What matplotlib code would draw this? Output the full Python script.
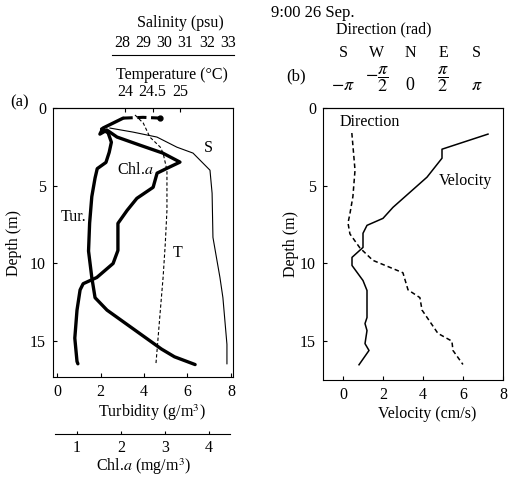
import numpy as np
import matplotlib
matplotlib.use('Agg')
import matplotlib.pyplot as plt

plt.rcParams['font.family'] = ['Liberation Serif', 'DejaVu Serif']
plt.rcParams['mathtext.fontset'] = 'stix'
plt.rcParams['font.size'] = 11.5

# ---- panel (a): profiles at 9:00 26 Sep.
tur_depth = [1.35, 1.6, 2.2, 2.85, 3.5, 3.9, 4.5, 5.7, 7.4, 9.2, 10.9, 12.2, 13.0, 13.9, 14.7, 15.5, 16.0, 16.5]
tur = [2.05, 2.35, 2.5, 2.4, 2.25, 1.85, 1.75, 1.6, 1.5, 1.45, 1.6, 1.75, 2.3, 3.2, 4.0, 4.8, 5.4, 6.35]

chl_depth = [0.65, 0.6, 0.65, 1.29, 1.68, 1.42, 1.87, 2.39, 2.9, 3.48, 3.87, 4.19, 5.1, 5.81, 6.58,
             7.42, 9.16, 10.0, 10.9, 11.3, 11.7, 13.0, 14.8, 16.3, 16.45]
chl = [2.89, 2.5, 2.05, 1.59, 1.52, 1.68, 1.91, 2.43, 2.95, 3.34, 3.05, 2.82, 2.73, 2.36, 2.14,
       1.93, 1.93, 1.82, 1.45, 1.14, 1.07, 1.0, 0.95, 1.0, 1.02]

sal_depth = [1.29, 1.55, 1.87, 2.52, 2.9, 4.0, 5.48, 8.32, 9.81, 10.9, 12.2, 15.2, 16.45]
sal = [27.43, 28.52, 29.65, 30.59, 31.35, 32.15, 32.25, 32.29, 32.48, 32.62, 32.76, 32.95, 32.95]

temp_depth = [0.45, 0.97, 1.87, 2.52, 2.9, 4.0, 6.58, 8.71, 10.9, 13.0, 15.6, 16.45]
temp = [24.18, 24.33, 24.45, 24.64, 24.69, 24.76, 24.76, 24.73, 24.69, 24.64, 24.58, 24.56]

# ---- panel (b): current
vel_depth = [1.68, 2.65, 3.23, 4.45, 5.42, 6.39, 7.1, 7.55, 8.06, 8.97, 9.61, 10.13, 11.1, 11.74,
             13.48, 13.87, 14.32, 15.16, 15.6, 16.52]
vel = [7.25, 4.95, 4.95, 4.2, 3.35, 2.5, 2.0, 1.2, 1.0, 1.0, 0.45, 0.45, 1.0, 1.2,
       1.2, 1.1, 1.2, 1.1, 1.3, 0.8]

dir_depth = [1.61, 4.0, 5.7, 6.8, 7.4, 8.1, 9.0, 9.8, 10.6, 11.7, 12.2, 13.0, 14.5, 15.0, 15.6, 16.5]
direction = [-2.74, -2.59, -2.69, -2.83, -2.92, -2.83, -2.36, -1.75, -0.33, -0.09, 0.47, 0.57,
             1.32, 1.98, 2.03, 2.5]

depth_ticks = [0, 5, 10, 15]
turb_ticks = [0, 2, 4, 6, 8]
chl_ticks = [1, 2, 3, 4]
sal_ticks = [28, 29, 30, 31, 32, 33]
temp_ticks = [24, 24.5, 25]
temp_labels = ['24', '24.5', '25']
vel_ticks = [0, 2, 4, 6, 8]
dir_ticks = [-np.pi, -np.pi / 2, 0, np.pi / 2, np.pi]
dir_labels = [r'$-\pi$', r'$-\dfrac{\pi}{2}$', '0', r'$\dfrac{\pi}{2}$', r'$\pi$']
compass = ['S', 'W', 'N', 'E', 'S']

W, H = 514, 478
fig = plt.figure(figsize=(W / 100, H / 100), dpi=100)


def box(left, top, right, bottom):
    return [left / W, (H - bottom) / H, (right - left) / W, (bottom - top) / H]


def only_spine(a, keep):
    for k, s in a.spines.items():
        s.set_visible(k in keep)


# ---------------- panel (a)
ax = fig.add_axes(box(53, 108, 233, 377))
ax.plot(tur, tur_depth, color='black', lw=2.4, solid_capstyle='round')
ax.set_xlim(-0.184, 8.092)
ax.set_ylim(17.3, 0)
ax.set_xticks(turb_ticks)
ax.set_yticks(depth_ticks)
ax.tick_params(direction='in', length=3, pad=5, top=False)
ax.set_xlabel('Turbidity (g/m$^3$)', labelpad=2)
ax.xaxis.label.set_x(0.55)
ax.set_ylabel('Depth (m)', labelpad=6)

# chlorophyll on its own bottom scale
ax_c = ax.twiny()
ax_c.plot(chl[:3], chl_depth[:3], color='black', lw=2.2, ls=(0, (3, 1.5)))
ax_c.plot(chl[2:], chl_depth[2:], color='black', lw=2.4, solid_capstyle='round')
ax_c.plot(chl[0], chl_depth[0], 'o', color='black', ms=3.5)
ax_c.set_xlim(0.4545, 4.545)
ax_c.xaxis.set_ticks_position('bottom')
ax_c.xaxis.set_label_position('bottom')
only_spine(ax_c, ['bottom'])
ax_c.spines['bottom'].set_position(('outward', 41))
ax_c.spines['bottom'].set_bounds(0.5, 4.48)
ax_c.set_xticks(chl_ticks)
ax_c.tick_params(direction='in', length=2, pad=4)
ax_c.set_xlabel('Chl.$a$ (mg/m$^3$)', labelpad=1)

# temperature on the top frame
ax_t = ax.twiny()
ax_t.plot(temp, temp_depth, color='black', lw=0.8, ls=(0, (3, 2)))
ax_t.set_xlim(22.69, 25.96)
ax_t.set_xticks(temp_ticks, temp_labels)
ax_t.tick_params(direction='in', length=3, pad=6)
only_spine(ax_t, ['top'])
ax_t.set_xlabel('Temperature (\u00b0C)', labelpad=3)
ax_t.xaxis.label.set_x(0.66)

# salinity on a detached top line
ax_s = ax.twiny()
ax_s.plot(sal, sal_depth, color='black', lw=0.8)
ax_s.set_xlim(24.745, 33.236)
only_spine(ax_s, ['top'])
ax_s.spines['top'].set_position(('outward', 38))
ax_s.spines['top'].set_bounds(27.53, 33.3)
ax_s.set_xticks(sal_ticks)
ax_s.tick_params(length=0, pad=3)
ax_s.set_xlabel('Salinity (psu)', labelpad=6)
ax_s.xaxis.label.set_x(0.705)

ax.text(6.95, 2.55, 'S', ha='center', va='center')
ax.text(5.56, 9.3, 'T', ha='center', va='center')
ax.text(3.58, 4.0, 'Chl.$a$', ha='center', va='center')
ax.text(0.78, 7.03, 'Tur.', ha='center', va='center')
fig.text(20 / W, 1 - 102 / H, '(a)', ha='center', va='center', fontsize=12)

# ---------------- panel (b)
axb = fig.add_axes(box(323, 108, 503, 380))
axb.plot(vel, vel_depth, color='black', lw=1.1)
axb.set_xlim(-1, 8)
axb.set_ylim(17.5, 0)
axb.set_xticks(vel_ticks)
axb.set_yticks(depth_ticks)
axb.tick_params(direction='in', length=3, pad=5, top=False)
axb.set_xlabel('Velocity (cm/s)', labelpad=2)
axb.xaxis.label.set_x(0.578)
axb.set_ylabel('Depth (m)', labelpad=1)

ax_d = axb.twiny()
ax_d.plot(direction, dir_depth, color='black', lw=1.1, ls=(0, (3, 2)))
ax_d.set_xlim(-4.10, 4.39)
ax_d.set_xticks(dir_ticks, dir_labels)
ax_d.tick_params(length=0, pad=10, labelsize=13)
only_spine(ax_d, ['top'])

sec = ax_d.secondary_xaxis('top')
sec.set_xticks(dir_ticks, compass)
sec.tick_params(length=0, pad=34)
sec.spines['top'].set_visible(False)
sec.set_xlabel('Direction (rad)', labelpad=8)
sec.xaxis.label.set_x(0.34)

axb.text(1.35, 0.9, 'Direction', ha='center', va='center')
axb.text(6.1, 4.7, 'Velocity', ha='center', va='center')
fig.text(296 / W, 1 - 76 / H, '(b)', ha='center', va='center', fontsize=12)

fig.text(313 / W, 1 - 13 / H, '9:00 26 Sep.', ha='center', va='center', fontsize=12)

fig.savefig('out.png', dpi=100)
